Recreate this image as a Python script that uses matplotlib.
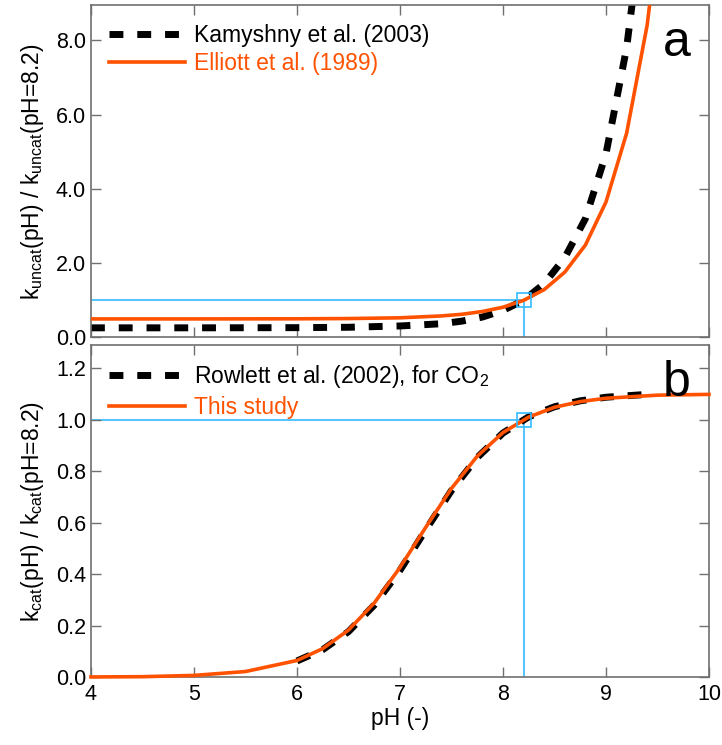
import numpy as np
import matplotlib
matplotlib.use('Agg')
import matplotlib.pyplot as plt

plt.rcParams['font.family'] = ['Liberation Sans', 'DejaVu Sans']
plt.rcParams['mathtext.default'] = 'regular'

# panel a: uncatalysed rate, normalised to pH 8.2
ph_a = [4.0, 5.0, 6.0, 6.5, 7.0, 7.4, 7.6, 7.8, 8.0, 8.2, 8.4, 8.6, 8.8, 9.0, 9.2, 9.4, 9.6]
kamyshny = [0.26, 0.26, 0.265, 0.275, 0.31, 0.37, 0.44, 0.55, 0.73, 1.00, 1.45, 2.15, 3.20, 4.95, 7.80, 12.2, 19.0]
elliott = [0.50, 0.50, 0.503, 0.51, 0.53, 0.58, 0.625, 0.70, 0.815, 1.00, 1.29, 1.76, 2.49, 3.65, 5.50, 8.42, 13.0]

# panel b: catalysed rate, normalised to pH 8.2
ph_rowlett = [6.0, 6.25, 6.5, 6.75, 7.0, 7.25, 7.5, 7.75, 8.0, 8.25, 8.5, 8.75, 9.0, 9.25, 9.4]
rowlett = [0.063, 0.107, 0.177, 0.280, 0.415, 0.572, 0.725, 0.853, 0.948, 1.011, 1.050, 1.073, 1.087, 1.094, 1.098]
ph_study = [4.0, 4.5, 5.0, 5.5, 6.0, 6.25, 6.5, 6.75, 7.0, 7.25, 7.5, 7.75, 8.0, 8.25, 8.5, 8.75, 9.0, 9.5, 10.0]
this_study = [0.001, 0.002, 0.007, 0.022, 0.065, 0.111, 0.183, 0.288, 0.426, 0.582, 0.733, 0.858, 0.950, 1.010, 1.048, 1.070, 1.083, 1.095, 1.098]

ph_ref = 8.2
orange = '#ff5200'
blue = '#33bbff'
spine_col = '#707070'

fig = plt.figure(figsize=(7.22, 7.45), dpi=100)
ax1 = fig.add_axes([0.126, 0.547, 0.856, 0.446])
ax2 = fig.add_axes([0.126, 0.091, 0.856, 0.446])

leg_kw = dict(loc='upper left', frameon=False, fontsize=16.5, handlelength=3.3,
              handletextpad=0.4, labelspacing=0.25, labelcolor='linecolor',
              borderaxespad=0.3, borderpad=0.5)

for ax in (ax1, ax2):
    ax.set_xlim(4, 10)
    ax.set_xticks([4, 5, 6, 7, 8, 9, 10])
    ax.tick_params(direction='in', length=7, width=1, colors=spine_col,
                   labelcolor='black', labelsize=15.5, top=True, right=True)
    for s in ax.spines.values():
        s.set_color(spine_col)
        s.set_linewidth(1.2)
    # reference lines at pH 8.2
    ax.plot([4, ph_ref], [1, 1], color=blue, lw=1.2, zorder=1)
    ax.plot([ph_ref, ph_ref], [0, 1], color=blue, lw=1.2, zorder=1)
    ax.plot([ph_ref], [1], marker='s', ms=10, mfc='none', mec=blue, mew=1.2, zorder=4)

# panel a
ax1.plot(ph_a, kamyshny, color='black', lw=5, dashes=(2.0, 2.0), label='Kamyshny et al. (2003)', zorder=2)
ax1.plot(ph_a, elliott, color=orange, lw=2.6, label='Elliott et al. (1989)', zorder=3)
ax1.set_ylim(0, 8.95)
ax1.set_yticks([0, 2, 4, 6, 8])
ax1.set_yticklabels(['0.0', '2.0', '4.0', '6.0', '8.0'])
ax1.tick_params(labelbottom=False)
ax1.set_ylabel('k$_{uncat}$(pH) / k$_{uncat}$(pH=8.2)', fontsize=16.5, labelpad=7)
ax1.legend(**leg_kw)
ax1.text(0.97, 0.955, 'a', transform=ax1.transAxes, fontsize=36, ha='right', va='top')

# panel b
ax2.plot(ph_rowlett, rowlett, color='black', lw=5, dashes=(2.0, 2.0),
         label='Rowlett et al. (2002), for CO$_2$', zorder=2)
ax2.plot(ph_study, this_study, color=orange, lw=2.6, label='This study', zorder=3, clip_on=False)
ax2.set_ylim(0, 1.29)
ax2.set_yticks([0, 0.2, 0.4, 0.6, 0.8, 1.0, 1.2])
ax2.set_yticklabels(['0.0', '0.2', '0.4', '0.6', '0.8', '1.0', '1.2'])
ax2.set_xticklabels(['4', '5', '6', '7', '8', '9', '10'])
ax2.tick_params(axis='x', pad=5)
ax2.set_xlabel('pH (-)', fontsize=16.5, labelpad=1)
ax2.set_ylabel('k$_{cat}$(pH) / k$_{cat}$(pH=8.2)', fontsize=16.5, labelpad=7)
ax2.legend(**leg_kw)
ax2.text(0.97, 0.955, 'b', transform=ax2.transAxes, fontsize=36, ha='right', va='top')

fig.savefig('out.png', dpi=100)
